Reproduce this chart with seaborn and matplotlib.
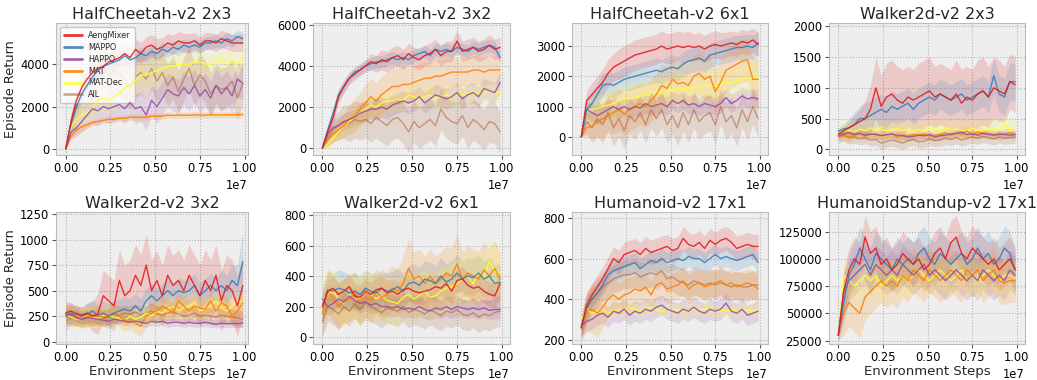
import numpy as np
import matplotlib
matplotlib.use("Agg")
import matplotlib.pyplot as plt
from matplotlib.ticker import MultipleLocator
import seaborn as sns

# ---------------- data ----------------
STEP_FRAC = [0.00, 0.03, 0.06, 0.09, 0.12, 0.15, 0.18, 0.21, 0.24, 0.27,
             0.30, 0.33, 0.36, 0.39, 0.42, 0.45, 0.48, 0.51, 0.54, 0.57,
             0.60, 0.63, 0.66, 0.69, 0.72, 0.75, 0.78, 0.81, 0.84, 0.87,
             0.90, 0.93, 0.96, 0.99]
ALGOS = ["AengMixer", "MAPPO", "HAPPO", "MAT", "MAT-Dec", "AIL"]
COLORS = ["#e41a1c", "#377eb8", "#984ea3", "#ff7f00", "#ffff33", "#a65628"]
TITLES = ["HalfCheetah-v2 2x3", "HalfCheetah-v2 3x2", "HalfCheetah-v2 6x1", "Walker2d-v2 2x3",
          "Walker2d-v2 3x2", "Walker2d-v2 6x1", "Humanoid-v2 17x1", "HumanoidStandup-v2 17x1"]

# Panel 1: HalfCheetah-v2 2x3
P1_AENG = [0,1300,2300,2900,3300,3600,3800,3900,4100,4200, 4300,4500,4300,4700,4500,4800,4900,4700,4800,5000, 4900,5100,5000,5000,5100,4900,5100,5100,5000,5200, 5100,5000,5000,5000]
P1_MAPPO = [0,1200,2000,2600,3000,3400,3700,3900,4000,4100, 4200,4400,4200,4300,4500,4400,4600,4500,4700,4600, 4800,4700,4900,4800,4900,4800,5000,5000,5100,5000, 5200,5100,5300,5200]
P1_HAPPO = [0,800,1000,1300,1600,1900,1800,2000,1900,2000, 2100,1900,2200,1900,2000,1600,2300,2000,2400,2800, 2600,2500,2900,2600,3000,2500,2800,2400,3000,2600, 2900,2500,3300,3100]
P1_MAT = [0,600,900,1050,1150,1250,1300,1350,1400,1400, 1450,1450,1500,1500,1500,1500,1550,1550,1550,1600, 1580,1600,1600,1590,1610,1600,1600,1620,1610,1600, 1620,1610,1620,1620]
P1_MATDEC = [0,1000,1400,1600,1700,1900,2300,2400,2300,2500, 2600,2900,3000,3200,3500,3500,3600,3700,3800,3900, 3900,4000,4000,4000,4100,4100,4000,4000,4100,4200, 4100,4200,4000,4300]
P1_AIL = [0,1200,2000,2600,3000,3200,3600,3800,3500,3700, 3600,3300,2900,3400,3600,3300,3800,3200,3600,3000, 3400,2700,3300,3800,3000,3500,3200,2600,3000,2800, 2900,3200,2400,3100]
P1_AENG_SD = [0,300,400,400,400,400,400,400,400,400, 500,500,500,500,500,500,500,500,450,450, 450,450,450,450,400,400,400,400,400,400, 400,400,400,400]
P1_MAPPO_SD = [0,300,350,350,350,300,300,300,300,300, 300,300,300,300,300,300,300,300,300,300, 300,300,300,300,300,300,300,300,300,300, 300,300,300,300]
P1_HAPPO_SD = [0,300,400,500,600,700,700,700,700,700, 700,700,700,700,700,700,700,800,800,800, 800,800,800,800,800,800,800,800,800,800, 800,800,800,800]
P1_MAT_SD = [0,200,200,200,150,150,150,150,150,150, 150,150,150,150,150,150,150,150,150,150, 150,150,150,150,150,150,150,150,150,150, 150,150,150,150]
P1_MATDEC_SD = [0,400,500,500,500,500,600,600,600,600, 600,600,600,600,600,600,600,600,500,500, 500,500,500,500,500,500,500,500,500,500, 500,500,500,500]
P1_AIL_SD = [0,500,700,800,900,1000,1000,1000,1000,1000, 1000,1000,1000,1000,1000,1000,1000,1000,1000,1000, 1000,1000,1000,1000,1000,1000,1000,1000,1000,1000, 1000,1000,1000,1000]

# Panel 2: HalfCheetah-v2 3x2
P2_AENG = [0,800,1500,2500,3000,3400,3600,3800,4000,4200, 4100,4300,4200,4400,4500,4300,4600,4400,4300,4500, 4600,4800,4500,4700,4700,5200,4700,4800,4900,4700, 4800,5000,4800,4900]
P2_MAPPO = [0,900,1700,2600,3000,3400,3700,3800,4000,4100, 4200,4200,4300,4400,4300,4400,4300,4500,4600,4700, 4500,4800,4700,4800,4700,4900,4800,4700,4900,4800, 4900,5000,4900,4400]
P2_HAPPO = [0,700,1000,1100,1300,1400,1500,1700,1800,1900, 1900,2000,1900,2100,2200,2300,2200,2300,2500,2200, 2400,2600,2500,2400,2500,2700,2400,2600,2700,2500, 2900,2800,2700,3200]
P2_MAT = [0,400,700,900,1100,1400,1600,1900,2200,2500, 2300,2600,2800,3000,3000,3100,3100,3200,3300,3400, 3400,3500,3500,3600,3700,3700,3700,3700,3800,3800, 3700,3800,3800,3800]
P2_MATDEC = [0,200,500,800,1100,1300,1500,1700,1900,2100, 2000,2200,2300,2300,2400,2300,2600,2500,2400,2500, 2600,2400,2500,2600,2500,2600,2600,2700,2600,2700, 2700,2800,2700,2700]
P2_AIL = [0,500,900,1100,1300,1200,1400,1300,1400,1200, 1500,1300,1100,1400,1500,1200,800,1300,1000,1200, 1400,1100,1900,1500,1300,1200,1600,1000,1400,1200, 900,1300,1200,800]
P2_AENG_SD = [0,200,300,300,300,300,300,300,300,400, 400,500,500,500,500,500,500,500,500,500, 500,500,500,500,500,500,500,500,500,500, 500,500,500,500]
P2_MAPPO_SD = [0,200,300,300,300,250,250,250,250,300, 300,300,300,300,300,300,300,300,300,300, 300,300,300,300,300,300,300,300,300,300, 300,300,300,300]
P2_HAPPO_SD = [0,300,400,400,400,400,400,500,500,500, 500,500,500,500,500,500,500,500,500,500, 500,500,500,500,500,500,500,500,500,500, 500,500,500,500]
P2_MAT_SD = [0,300,400,500,600,700,800,800,900,900, 900,900,900,900,900,900,900,800,800,800, 800,800,800,800,700,700,700,700,700,700, 700,700,700,700]
P2_MATDEC_SD = [0,200,300,400,400,400,500,500,500,500, 500,500,500,500,500,500,500,500,500,500, 500,500,500,500,500,500,500,500,500,500, 500,500,500,500]
P2_AIL_SD = [0,400,600,700,800,900,900,900,900,900, 1000,1000,1000,1000,1000,1000,1000,1000,1000,1000, 1000,1000,1000,1000,1000,1000,1000,1000,1000,1000, 1000,1000,1000,1000]

# Panel 3: HalfCheetah-v2 6x1
P3_AENG = [0,1200,1400,1600,1800,2100,2300,2400,2500,2600, 2700,2750,2800,2850,2900,3000,2900,2950,3000,2950, 3000,2950,3000,2900,3000,3050,3000,3050,3100,3050, 3150,3100,3200,3050]
P3_MAPPO = [0,900,1100,1400,1700,1750,1700,1800,1900,1950, 2000,2050,2100,2150,2200,2150,2250,2300,2250,2400, 2500,2550,2600,2500,2700,2750,2800,2850,2900,2950, 2950,3000,2950,3100]
P3_HAPPO = [0,900,800,700,800,900,1000,900,1000,900, 1000,950,1100,1000,1050,1100,1000,1200,1100,1200, 1050,1100,1000,1100,1050,1000,1100,1300,1100,1200, 1350,1250,1300,1250]
P3_MAT = [0,300,350,500,600,700,800,900,750,900, 1000,1100,1000,1200,1400,1700,1600,1900,1750,1800, 1700,2000,2100,1900,2000,1500,1800,2200,2300,2400, 2500,2550,1900,1900]
P3_MATDEC = [0,800,900,950,1000,1050,1100,1200,1250,1300, 1300,1350,1400,1450,1500,1450,1500,1550,1600,1600, 1550,1650,1600,1700,1700,1650,1750,1800,1800,1850, 1900,1950,1950,2000]
P3_AIL = [0,500,300,600,400,800,300,600,200,700, 500,800,400,900,600,900,400,700,300,800, 400,900,500,700,800,400,1000,500,700,300, 900,500,1000,600]
P3_AENG_SD = [0,300,400,400,450,450,450,500,500,500, 500,500,500,500,500,500,500,500,500,500, 500,450,450,450,450,450,450,400,400,400, 400,400,400,400]
P3_MAPPO_SD = [0,300,350,400,400,400,400,400,400,400, 400,400,400,400,400,400,400,400,400,400, 400,400,400,400,400,400,400,400,400,400, 400,400,400,400]
P3_HAPPO_SD = [0,250,300,300,300,300,300,300,300,300, 300,300,300,300,300,300,300,300,300,300, 300,300,300,300,300,300,300,300,300,300, 300,300,300,300]
P3_MAT_SD = [0,300,400,500,600,600,700,700,700,700, 700,700,700,700,700,700,700,700,700,700, 700,700,700,700,700,700,700,700,700,700, 700,700,700,700]
P3_MATDEC_SD = [0,300,400,400,450,450,500,500,500,500, 500,500,500,500,500,500,500,500,500,500, 500,500,500,500,500,500,500,500,500,500, 500,500,500,500]
P3_AIL_SD = [0,400,500,600,600,600,600,600,600,600, 600,600,600,600,600,600,600,600,600,600, 600,600,600,600,600,600,600,600,600,600, 600,600,600,600]

# Panel 4: Walker2d-v2 2x3
P4_AENG = [250,300,350,400,450,500,650,1000,700,850, 900,800,750,850,800,850,900,950,850,900, 850,800,900,750,850,800,900,950,850,1000, 950,900,1100,1050]
P4_MAPPO = [300,330,350,400,500,500,550,600,650,600, 700,650,700,750,650,750,800,850,800,900, 850,800,850,900,800,850,900,950,850,1200, 900,850,1100,1100]
P4_HAPPO = [230,250,270,240,260,230,250,240,220,240, 250,230,220,200,210,230,220,240,200,220, 230,250,260,280,240,250,230,260,240,230, 250,240,230,240]
P4_MAT = [230,220,200,230,260,220,240,250,230,230, 250,200,230,220,240,230,250,220,230,240, 270,230,260,250,300,230,280,260,250,240, 230,250,270,240]
P4_MATDEC = [260,300,310,280,330,300,350,310,330,300, 320,340,300,330,290,320,300,360,330,300, 350,320,330,310,300,340,320,300,330,350, 320,400,330,360]
P4_AIL = [200,230,180,200,170,190,150,160,100,130, 150,130,100,140,160,120,130,170,140,150, 180,160,190,150,180,200,180,210,190,170, 200,180,190,200]
P4_AENG_SD = [50,80,100,150,200,300,400,500,500,550, 550,550,550,500,500,550,550,550,500,500, 500,500,550,550,500,500,550,550,500,500, 500,450,450,450]
P4_MAPPO_SD = [50,80,150,200,200,250,250,250,250,250, 250,250,250,250,250,250,250,250,250,250, 250,250,250,250,250,250,250,250,250,300, 300,300,300,300]
P4_HAPPO_SD = [60,60,60,60,60,60,60,60,60,60, 60,60,60,60,60,60,60,60,60,60, 60,60,60,60,60,60,60,60,60,60, 60,60,60,60]
P4_MAT_SD = [80,80,80,80,80,80,80,80,80,80, 80,80,80,80,80,80,80,80,80,80, 80,80,80,80,80,80,80,80,80,80, 80,80,80,80]
P4_MATDEC_SD = [100,150,150,150,150,150,150,150,150,150, 150,150,150,150,150,150,150,150,150,150, 150,150,150,150,150,150,150,150,150,150, 150,150,150,150]
P4_AIL_SD = [100,100,100,100,100,100,100,100,100,100, 100,100,100,100,100,100,100,100,100,100, 100,100,100,100,100,100,100,100,100,100, 100,100,100,100]

# Panel 5: Walker2d-v2 3x2
P5_AENG = [280,300,270,260,280,250,270,450,400,350, 600,450,500,650,550,750,500,600,450,650, 550,600,500,650,550,450,600,500,650,400, 550,500,350,550]
P5_MAPPO = [270,260,280,250,270,300,260,280,250,280, 300,320,300,350,300,400,450,400,450,500, 450,500,480,500,550,450,500,550,500,550, 500,600,550,780]
P5_HAPPO = [250,280,230,220,240,230,220,210,200,220, 210,200,190,200,190,180,200,190,200,180, 190,190,180,190,180,180,190,180,170,180, 175,180,175,185]
P5_MAT = [270,260,250,230,240,260,250,240,260,280, 250,200,220,180,150,250,280,300,350,320, 280,400,350,300,350,330,320,400,300,380, 350,250,300,380]
P5_MATDEC = [260,240,220,230,250,240,230,250,260,240, 230,200,250,220,240,280,250,300,280,320, 350,300,330,350,380,300,330,350,400,330, 300,350,400,380]
P5_AIL = [250,230,240,220,230,240,250,230,240,270, 260,280,270,290,260,280,300,270,260,280, 290,270,250,260,280,250,260,250,240,260, 250,240,230,220]
P5_AENG_SD = [80,80,80,80,100,150,200,250,250,250, 300,300,300,300,300,300,300,300,300,300, 300,300,300,300,300,300,300,300,300,300, 300,300,300,300]
P5_MAPPO_SD = [80,80,80,80,100,100,100,120,120,120, 120,120,120,120,120,120,120,120,120,120, 120,120,120,120,120,120,120,120,120,150, 150,150,200,300]
P5_HAPPO_SD = [150,100,80,60,50,50,40,40,40,40, 40,40,40,40,40,40,40,40,40,40, 40,40,40,40,40,40,40,40,40,40, 40,40,40,40]
P5_MAT_SD = [100,100,100,100,100,100,100,100,100,100, 100,100,100,100,100,100,100,100,100,100, 100,100,100,100,100,100,100,100,100,100, 100,100,100,100]
P5_MATDEC_SD = [100,100,100,100,100,100,100,100,100,100, 100,100,100,100,100,100,100,100,100,100, 100,100,100,100,100,100,100,100,100,100, 100,100,100,100]
P5_AIL_SD = [80,80,80,80,80,80,80,80,80,80, 80,80,80,80,80,80,80,80,80,80, 80,80,80,80,80,80,80,80,80,80, 80,80,80,80]

# Panel 6: Walker2d-v2 6x1
P6_AENG = [200,300,320,280,300,330,270,260,300,280, 310,320,290,300,280,310,320,300,290,300, 310,330,320,350,300,370,380,340,320,330, 300,280,270,350]
P6_MAPPO = [200,310,300,320,310,290,300,280,320,300, 290,320,300,310,330,300,350,360,340,380, 370,350,400,360,380,420,380,400,390,420, 380,400,350,360]
P6_HAPPO = [250,200,220,250,230,270,240,220,230,210, 220,200,200,190,200,180,190,180,200,180, 170,190,180,200,180,200,190,180,190,180, 190,175,180,180]
P6_MAT = [150,300,250,200,230,250,280,220,260,240, 300,260,280,320,300,350,450,380,400,350, 400,350,380,420,400,480,380,420,400,380, 440,400,450,380]
P6_MATDEC = [250,280,300,250,220,280,240,260,300,280, 250,270,240,230,220,260,280,250,270,300, 260,270,300,320,330,350,380,400,350,420, 380,500,430,420]
P6_AIL = [100,200,180,150,200,170,220,180,230,200, 180,160,190,180,170,200,160,180,170,150, 180,160,140,170,160,180,150,140,160,130, 150,140,160,170]
P6_AENG_SD = [80,80,80,80,80,80,80,80,80,80, 80,80,80,80,80,80,80,80,80,80, 80,80,80,80,80,80,80,80,80,80, 80,80,80,80]
P6_MAPPO_SD = [120,120,120,120,120,120,120,120,120,120, 120,120,120,120,120,120,120,120,120,120, 120,120,120,120,120,120,120,120,120,120, 120,120,120,120]
P6_HAPPO_SD = [60,60,60,60,60,60,60,60,60,60, 60,60,60,60,60,60,60,60,60,60, 60,60,60,60,60,60,60,60,60,60, 60,60,60,60]
P6_MAT_SD = [150,150,150,150,150,150,150,150,150,150, 150,150,150,150,150,180,200,180,180,180, 180,180,180,180,180,200,180,180,180,180, 180,180,180,180]
P6_MATDEC_SD = [150,150,150,150,150,150,150,150,150,150, 150,150,150,150,150,150,150,150,150,150, 150,150,150,150,150,150,150,150,150,150, 150,150,150,150]
P6_AIL_SD = [100,100,100,100,100,100,100,100,100,100, 100,100,100,100,100,100,100,100,100,100, 100,100,100,100,100,100,100,100,100,100, 100,100,100,100]

# Panel 7: Humanoid-v2 17x1
P7_AENG = [260,370,420,460,500,550,600,580,620,630, 640,620,650,630,640,650,660,640,650,700, 670,660,680,650,690,670,690,700,680,650, 660,670,660,660]
P7_MAPPO = [260,360,400,430,470,520,540,550,560,570, 580,550,570,590,580,600,580,590,600,590, 610,600,600,580,600,620,600,610,600,590, 600,610,620,580]
P7_HAPPO = [270,290,300,320,330,310,340,330,350,320, 340,330,350,340,360,370,350,340,330,350, 340,360,340,330,350,340,350,380,340,330, 350,320,330,340]
P7_MAT = [250,340,350,330,360,400,420,400,420,430, 450,440,460,420,470,480,450,460,470,490, 450,470,480,460,470,480,490,470,480,460, 470,480,470,450]
P7_MATDEC = [300,350,330,340,350,330,340,350,340,360, 350,340,350,360,350,340,350,345,350,340, 345,350,345,350,355,340,345,340,345,340, 350,345,340,350]
P7_AIL = [260,350,400,430,460,480,500,510,520,520, 530,510,520,530,520,540,500,510,490,480, 470,490,480,470,480,470,480,470,460,470, 460,460,470,470]
P7_AENG_SD = [50,60,60,60,60,60,60,60,60,60, 60,60,60,60,60,60,60,60,60,60, 60,60,60,60,60,60,60,60,60,60, 60,60,60,60]
P7_MAPPO_SD = [50,50,50,50,50,50,50,50,50,50, 50,50,50,50,50,50,50,50,50,50, 50,50,50,50,50,50,50,50,50,50, 50,50,50,50]
P7_HAPPO_SD = [50,50,50,50,50,50,50,50,50,50, 50,50,50,50,50,50,50,50,50,50, 50,50,50,50,50,50,50,50,50,50, 50,50,50,50]
P7_MAT_SD = [60,100,120,120,100,90,80,80,80,80, 70,70,70,70,70,70,70,70,70,70, 70,70,70,70,70,70,70,70,70,70, 70,70,70,70]
P7_MATDEC_SD = [30,30,30,30,30,30,30,30,30,30, 30,30,30,30,30,30,30,30,30,30, 30,30,30,30,30,30,30,30,30,30, 30,30,30,30]
P7_AIL_SD = [60,70,70,70,70,70,70,70,70,70, 70,70,70,70,70,70,70,70,70,70, 70,70,70,70,70,70,70,70,70,70, 70,70,70,70]

# Panel 8: HumanoidStandup-v2 17x1 (no AIL curve)
P8_AENG = [30000,70000,90000,100000,95000,120000,105000,110000,95000,100000, 90000,95000,105000,100000,95000,100000,90000,95000,105000,110000, 100000,115000,120000,105000,100000,110000,105000,100000,95000,100000, 90000,95000,100000,90000]
P8_MAPPO = [30000,60000,85000,95000,110000,100000,90000,105000,100000,95000, 90000,100000,95000,100000,95000,105000,110000,100000,95000,105000, 100000,95000,100000,105000,95000,100000,110000,100000,105000,95000, 100000,110000,105000,90000]
P8_HAPPO = [30000,70000,80000,85000,90000,95000,85000,95000,90000,85000, 90000,85000,95000,90000,85000,90000,95000,85000,90000,85000, 80000,85000,90000,85000,80000,85000,80000,90000,85000,80000, 85000,80000,90000,85000]
P8_MAT = [30000,50000,60000,55000,50000,65000,70000,75000,80000,75000, 80000,75000,85000,80000,90000,85000,80000,90000,85000,80000, 85000,90000,85000,80000,90000,85000,90000,80000,85000,90000, 80000,78000,80000,80000]
P8_MATDEC = [30000,85000,80000,75000,80000,85000,80000,85000,75000,80000, 85000,80000,85000,80000,85000,90000,85000,80000,85000,90000, 85000,80000,85000,90000,80000,85000,80000,85000,90000,85000, 80000,85000,85000,82000]
P8_AENG_SD = [5000,20000,20000,20000,20000,20000,20000,20000,20000,20000, 20000,20000,20000,20000,20000,20000,20000,20000,20000,20000, 20000,20000,20000,20000,20000,20000,20000,20000,20000,20000, 20000,20000,20000,20000]
P8_MAPPO_SD = [5000,20000,20000,20000,20000,20000,20000,20000,20000,20000, 20000,20000,20000,20000,20000,20000,20000,20000,20000,20000, 20000,20000,20000,20000,20000,20000,20000,20000,20000,20000, 20000,20000,20000,20000]
P8_HAPPO_SD = [5000,18000,18000,18000,18000,18000,18000,18000,18000,18000, 18000,18000,18000,18000,18000,18000,18000,18000,18000,18000, 18000,18000,18000,18000,18000,18000,18000,18000,18000,18000, 18000,18000,18000,18000]
P8_MAT_SD = [5000,20000,22000,22000,22000,22000,20000,20000,20000,20000, 20000,20000,20000,20000,20000,20000,20000,20000,20000,20000, 20000,20000,20000,20000,20000,20000,20000,20000,20000,20000, 20000,20000,20000,20000]
P8_MATDEC_SD = [5000,15000,15000,15000,15000,15000,15000,15000,15000,15000, 15000,15000,15000,15000,15000,15000,15000,15000,15000,15000, 15000,15000,15000,15000,15000,15000,15000,15000,15000,15000, 15000,15000,15000,15000]

YLIMS = [(-280, 5940), (-325, 6080), (-600, 3760), (-93, 2055),
         (-23, 1270), (-46, 820), (178, 830), (22000, 143000)]
YSTEPS = [2000, 2000, 1000, 500, 250, 200, 200, 25000]

PANELS = [
    [(P1_AENG, P1_AENG_SD), (P1_MAPPO, P1_MAPPO_SD), (P1_HAPPO, P1_HAPPO_SD), (P1_MAT, P1_MAT_SD), (P1_MATDEC, P1_MATDEC_SD), (P1_AIL, P1_AIL_SD)],
    [(P2_AENG, P2_AENG_SD), (P2_MAPPO, P2_MAPPO_SD), (P2_HAPPO, P2_HAPPO_SD), (P2_MAT, P2_MAT_SD), (P2_MATDEC, P2_MATDEC_SD), (P2_AIL, P2_AIL_SD)],
    [(P3_AENG, P3_AENG_SD), (P3_MAPPO, P3_MAPPO_SD), (P3_HAPPO, P3_HAPPO_SD), (P3_MAT, P3_MAT_SD), (P3_MATDEC, P3_MATDEC_SD), (P3_AIL, P3_AIL_SD)],
    [(P4_AENG, P4_AENG_SD), (P4_MAPPO, P4_MAPPO_SD), (P4_HAPPO, P4_HAPPO_SD), (P4_MAT, P4_MAT_SD), (P4_MATDEC, P4_MATDEC_SD), (P4_AIL, P4_AIL_SD)],
    [(P5_AENG, P5_AENG_SD), (P5_MAPPO, P5_MAPPO_SD), (P5_HAPPO, P5_HAPPO_SD), (P5_MAT, P5_MAT_SD), (P5_MATDEC, P5_MATDEC_SD), (P5_AIL, P5_AIL_SD)],
    [(P6_AENG, P6_AENG_SD), (P6_MAPPO, P6_MAPPO_SD), (P6_HAPPO, P6_HAPPO_SD), (P6_MAT, P6_MAT_SD), (P6_MATDEC, P6_MATDEC_SD), (P6_AIL, P6_AIL_SD)],
    [(P7_AENG, P7_AENG_SD), (P7_MAPPO, P7_MAPPO_SD), (P7_HAPPO, P7_HAPPO_SD), (P7_MAT, P7_MAT_SD), (P7_MATDEC, P7_MATDEC_SD), (P7_AIL, P7_AIL_SD)],
    [(P8_AENG, P8_AENG_SD), (P8_MAPPO, P8_MAPPO_SD), (P8_HAPPO, P8_HAPPO_SD), (P8_MAT, P8_MAT_SD), (P8_MATDEC, P8_MATDEC_SD), None],
]

# ---------------- style ----------------
sns.set_style("darkgrid", {
    "axes.facecolor": "#eeeeee",
    "axes.edgecolor": "#bcbcbc",
    "axes.linewidth": 1.0,
    "grid.color": "#b2b2b2",
    "grid.linestyle": ":",
    "xtick.bottom": True,
    "ytick.left": True,
})
plt.rcParams["font.family"] = ["DejaVu Sans"]

W, H = 1037, 380
fig = plt.figure(figsize=(W / 100, H / 100), dpi=100)

COL_L = [56, 313, 572, 829]
COL_R = [248, 510, 768, 1025]
ROW_T = [23, 212]
ROW_B = [155, 344]

steps = np.array(STEP_FRAC) * 1e7

for i, series in enumerate(PANELS):
    r, c = divmod(i, 4)
    ax = fig.add_axes([COL_L[c] / W, 1 - ROW_B[r] / H,
                       (COL_R[c] - COL_L[c]) / W, (ROW_B[r] - ROW_T[r]) / H])
    for k, item in enumerate(series):
        if item is None:
            continue
        mean, sd = np.array(item[0], float), np.array(item[1], float)
        alpha_line = 0.5 if ALGOS[k] == "AIL" else 0.88
        ax.fill_between(steps, mean - sd, mean + sd, color=COLORS[k], alpha=0.17,
                        linewidth=0, zorder=2)
        sns.lineplot(x=steps, y=mean, ax=ax, color=COLORS[k], linewidth=1.0,
                     alpha=alpha_line, label=ALGOS[k], zorder=10 - k)
    ax.set_title(TITLES[i], fontsize=11.5, pad=3)
    ax.set_xlim((-0.054e7, 1.019e7) if c == 0 else (-0.052e7, 1.045e7))
    ax.set_ylim(*YLIMS[i])
    ax.xaxis.set_major_locator(MultipleLocator(0.25e7))
    ax.yaxis.set_major_locator(MultipleLocator(YSTEPS[i]))
    ax.tick_params(axis="both", labelsize=8.3, length=3.0, width=0.8, color="#555555",
                   labelcolor="black", pad=2)
    ax.xaxis.get_offset_text().set_fontsize(8.3)
    ax.grid(True, color="#b2b2b2", linestyle=":", linewidth=0.8)
    for sp in ax.spines.values():
        sp.set_color("#bcbcbc")
    ax.set_ylabel("Episode Return" if c == 0 else "", fontsize=9.3, labelpad=2)
    ax.set_xlabel("Environment Steps" if r == 1 else "", fontsize=9.5, labelpad=1)
    if i == 0:
        leg = ax.legend(loc="upper left", fontsize=5.8, frameon=True, framealpha=0.8,
                        facecolor="white", edgecolor="#bcbcbc", handlelength=2.2,
                        borderpad=0.5, labelspacing=0.35)
        for line in leg.get_lines():
            line.set_linewidth(2.0)
    else:
        if ax.get_legend() is not None:
            ax.get_legend().remove()

fig.savefig("out.png", dpi=100)
